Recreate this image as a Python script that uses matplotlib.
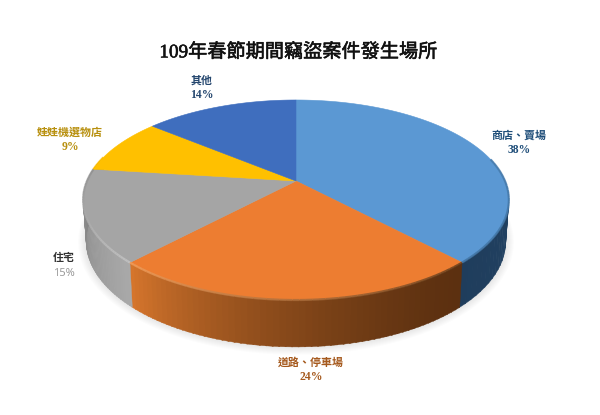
#!/usr/bin/env python3
# -*- coding: utf-8 -*-
import numpy as np
import matplotlib
matplotlib.use("Agg")
import matplotlib.pyplot as plt
import matplotlib.patheffects as pe
from matplotlib.colors import to_rgb
from matplotlib.patches import Polygon

title = "109年春節期間竊盜案件發生場所"
categories = ["商店、賣場", "道路、停車場", "住宅", "娃娃機選物店", "其他"]
values = [38, 24, 15, 9, 14]
face_colors = ["#5B98D3", "#ED7D31", "#A5A5A5", "#FFC000", "#3F6EBE"]
label_colors = ["#1F4E79", "#A5591D", "#333333", "#B8900F", "#24466E"]
value_colors = ["#1F4E79", "#A5591D", "#9A9A9A", "#B8900F", "#24466E"]
label_xy = [(519, 135), (311, 362), (64, 258), (70, 132), (202, 80)]

# side wall shading, (fraction through the slice: start, end)
side_start = ["#2A4E72", "#D8772D", "#A9A9A9", "#8A6A00", "#223A66"]
side_end = ["#1F3D5C", "#5C3010", "#7D7D7D", "#8A6A00", "#223A66"]
rim_start = ["#4F87BC", "#5F3A1A", "#C6C6C6", "#FFC000", "#3F6EBE"]
rim_end = ["#3F719F", "#F2A05E", "#8E8E8E", "#FFC000", "#3F6EBE"]

serif = ["Liberation Serif", "Noto Sans CJK TC", "DejaVu Sans"]
sans = ["Noto Sans", "DejaVu Sans"]


def project(t, cx=296, cy=181, a=96.4, b=209, k=0.19):
    # perspective view of the pie disc, t runs clockwise from the top
    d = 1 + k * np.cos(t)
    return cx + b * np.sin(t) / d, cy - a * np.cos(t) / d


def project_low(t):
    return project(t, cy=221, a=102, b=206)


def mix(c1, c2, f):
    c1, c2 = np.array(to_rgb(c1)), np.array(to_rgb(c2))
    return tuple(c1 + (c2 - c1) * f)


fig = plt.figure(figsize=(6, 4.15), dpi=100)
ax = fig.add_axes([0, 0, 1, 1])
ax.set_xlim(0, 600)
ax.set_ylim(415, 0)
ax.axis("off")

edges = np.cumsum([0] + values) / sum(values) * 2 * np.pi

# soft shadow under the pie
tt = np.linspace(0, 2 * np.pi, 200)
for grow in np.arange(8, 0, -1):
    sx, sy = project_low(tt)
    sx = 296 + (sx - 296) * (1 + grow / 210)
    sy = 225 + (sy - 225) * (1 + grow / 125)
    ax.add_patch(Polygon(np.c_[sx, sy], closed=True, fc="#808080", ec="none", alpha=0.025))

# side wall, only the front half shows
for i in range(len(values)):
    t0, t1 = edges[i], edges[i + 1]
    steps = np.linspace(t0, t1, 60)
    for j in range(len(steps) - 1):
        ta, tb = steps[j], steps[j + 1] + 0.005
        if np.cos((ta + tb) / 2) > 0.25:
            continue
        xa, ya = project(ta)
        xb, yb = project(tb)
        xc, yc = project_low(tb)
        xd, yd = project_low(ta)
        col = mix(side_start[i], side_end[i], j / 59)
        if i == 1:
            # orange goes dark quickly towards the right
            col = mix(side_end[i], side_start[i], (j / 59) ** 1.6)
        ax.add_patch(Polygon([(xa, ya), (xb, yb), (xc, yc), (xd, yd)], closed=True, fc=col, ec=col, lw=0.3))

# top face
for i in range(len(values)):
    steps = np.linspace(edges[i], edges[i + 1], 120)
    x, y = project(steps)
    pts = np.r_[[[296, 181]], np.c_[x, y]]
    ax.add_patch(Polygon(pts, closed=True, fc=face_colors[i], ec=face_colors[i], lw=0.4))

# bevel along the front edge
for i in range(len(values)):
    steps = np.linspace(edges[i], edges[i + 1], 60)
    x, y = project(steps)
    for j in range(len(steps) - 1):
        if np.cos(steps[j]) > 0.25:
            continue
        col = mix(rim_start[i], rim_end[i], j / 59)
        ax.plot(x[j:j + 2], y[j:j + 2], color=col, lw=1.6, alpha=0.8, solid_capstyle="butt")

ax.text(298, 52, title, family=serif, fontsize=13.8, color="#111111", ha="center", va="center",
        path_effects=[pe.withStroke(linewidth=0.4, foreground="#111111")])

for name, v, xy, c1, c2 in zip(categories, values, label_xy, label_colors, value_colors):
    ax.text(xy[0], xy[1], name, family=serif, fontsize=7.9, weight="bold", color=c1, ha="center", va="center")
    if name == "住宅":
        ax.text(xy[0], xy[1] + 15, "%d%%" % v, family=sans, fontsize=8, color=c2, ha="center", va="center")
    else:
        ax.text(xy[0], xy[1] + 15, "%d%%" % v, family=serif, fontsize=8.4, weight="bold", color=c2, ha="center", va="center")

fig.savefig("out.png", dpi=100)
